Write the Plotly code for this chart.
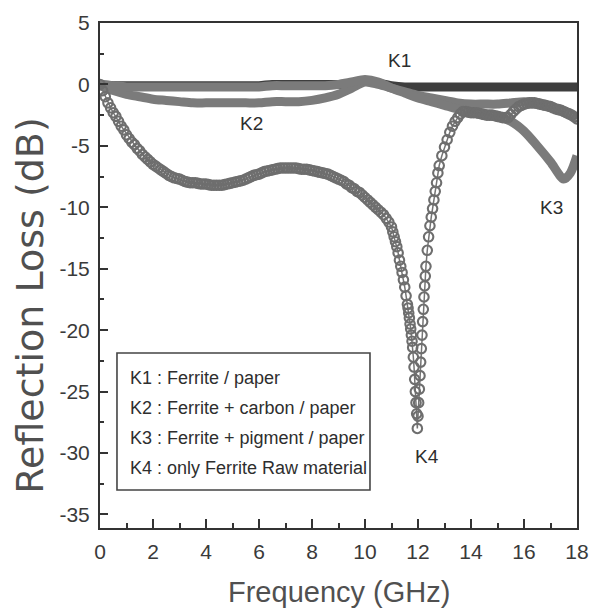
import plotly.graph_objects as go

# ---------------- data ----------------
freq_a = [0.0, 0.5, 1.0, 1.5, 2.0, 2.5, 3.0, 3.5, 4.0, 4.5, 5.0, 5.5, 6.0, 6.5, 7.0, 7.5, 8.0, 8.5,
          9.0, 9.5, 10.0, 10.5, 11.0, 11.5, 12.0, 12.5, 13.0, 13.5, 14.0, 14.5, 15.0, 15.5, 16.0,
          16.5, 17.0, 17.5, 18.0]

k1_rl = [0.0, -0.1, -0.1, -0.1, -0.1, -0.1, -0.1, -0.1, -0.1, -0.1, -0.1, -0.1, -0.1, 0.0, 0.0,
         0.0, 0.0, 0.0, 0.0, 0.1, 0.3, 0.1, -0.1, -0.2, -0.2, -0.2, -0.2, -0.2, -0.2, -0.2, -0.2,
         -0.2, -0.2, -0.2, -0.2, -0.2, -0.2]

k2_rl = [-0.1, -0.5, -0.8, -1.0, -1.2, -1.3, -1.4, -1.5, -1.5, -1.5, -1.5, -1.5, -1.5, -1.4,
         -1.4, -1.4, -1.3, -1.1, -0.8, -0.3, 0.2, 0.0, -0.3, -0.6, -0.9, -1.1, -1.3, -1.5, -1.6,
         -1.6, -1.6, -1.5, -1.4, -1.5, -1.8, -2.2, -2.8]

freq_k3 = [0.0, 0.5, 1.0, 1.5, 2.0, 2.5, 3.0, 3.5, 4.0, 4.5, 5.0, 5.5, 6.0, 6.5, 7.0, 7.5, 8.0, 8.5,
           9.0, 9.5, 10.0, 10.5, 11.0, 11.5, 12.0, 12.5, 13.0, 13.5, 14.0, 14.5, 15.0, 15.5, 16.0,
           16.5, 17.0, 17.5, 17.75, 18.0]
k3_rl = [0.0, -0.1, -0.2, -0.2, -0.2, -0.2, -0.2, -0.2, -0.2, -0.2, -0.2, -0.2, -0.2, -0.1, -0.1,
         -0.1, -0.1, -0.1, 0.0, 0.2, 0.4, 0.2, -0.3, -0.7, -1.1, -1.4, -1.7, -2.0, -2.2, -2.4,
         -2.6, -3.0, -3.8, -5.0, -6.3, -7.7, -7.2, -5.8]

# K4 (open circles): (frequency GHz, reflection loss dB)
k4_points = [
    (0.0, 0.0), (0.1, -0.5), (0.2, -1.0), (0.3, -1.5), (0.4, -1.9), (0.5, -2.3), (0.6, -2.6),
    (0.7, -3.0), (0.8, -3.4), (0.9, -3.7), (1.0, -4.1), (1.1, -4.4), (1.2, -4.7), (1.3, -4.9),
    (1.4, -5.2), (1.5, -5.4), (1.6, -5.7), (1.7, -5.9), (1.8, -6.1), (1.9, -6.3), (2.0, -6.5),
    (2.1, -6.65), (2.2, -6.8), (2.3, -6.95), (2.4, -7.1), (2.5, -7.25), (2.6, -7.4), (2.7, -7.5),
    (2.8, -7.6), (2.9, -7.65), (3.0, -7.7), (3.1, -7.8), (3.2, -7.9), (3.3, -7.95), (3.4, -8.0),
    (3.5, -8.0), (3.6, -8.0), (3.7, -8.05), (3.8, -8.1), (3.9, -8.1), (4.0, -8.1), (4.1, -8.15),
    (4.2, -8.2), (4.3, -8.2), (4.4, -8.2), (4.5, -8.2), (4.6, -8.2), (4.7, -8.15), (4.8, -8.1),
    (4.9, -8.05), (5.0, -8.0), (5.1, -7.95), (5.2, -7.9), (5.3, -7.85), (5.4, -7.8), (5.5, -7.7),
    (5.6, -7.6), (5.7, -7.5), (5.8, -7.4), (5.9, -7.35), (6.0, -7.3), (6.1, -7.2), (6.2, -7.1),
    (6.3, -7.05), (6.4, -7.0), (6.5, -6.95), (6.6, -6.9), (6.7, -6.85), (6.8, -6.8), (6.9, -6.8),
    (7.0, -6.8), (7.1, -6.8), (7.2, -6.8), (7.3, -6.8), (7.4, -6.8), (7.5, -6.85), (7.6, -6.9),
    (7.7, -6.9), (7.8, -6.9), (7.9, -6.95), (8.0, -7.0), (8.1, -7.05), (8.2, -7.1), (8.3, -7.15),
    (8.4, -7.2), (8.5, -7.25), (8.6, -7.3), (8.7, -7.4), (8.8, -7.5), (8.9, -7.6), (9.0, -7.7),
    (9.1, -7.8), (9.2, -7.9), (9.3, -8.1), (9.4, -8.2), (9.5, -8.4), (9.6, -8.5), (9.7, -8.7),
    (9.8, -8.8), (9.9, -9.0), (10.0, -9.2), (10.1, -9.4), (10.2, -9.6), (10.3, -9.8),
    (10.4, -10.0), (10.5, -10.2), (10.6, -10.4), (10.7, -10.6), (10.8, -10.9), (10.9, -11.2),
    (11.0, -11.6), (11.05, -12.0), (11.1, -12.4), (11.15, -12.8), (11.2, -13.2), (11.25, -13.7),
    (11.3, -14.3), (11.35, -14.8), (11.4, -15.3), (11.45, -15.9), (11.5, -16.5), (11.55, -17.2),
    (11.6, -17.9), (11.625, -18.2), (11.65, -18.6), (11.675, -19.0), (11.7, -19.5),
    (11.725, -19.9), (11.75, -20.4), (11.775, -20.9), (11.8, -21.4), (11.825, -22.2),
    (11.85, -23.0), (11.875, -24.0), (11.9, -25.0), (11.925, -25.9), (11.95, -26.8),
    (11.975, -28.0), (12.0, -27.0), (12.025, -25.9), (12.05, -24.8), (12.075, -23.7),
    (12.1, -22.6), (12.125, -21.5), (12.15, -20.4), (12.175, -19.3), (12.2, -18.3),
    (12.225, -17.3), (12.25, -16.4), (12.275, -15.6), (12.3, -14.8), (12.35, -13.5),
    (12.4, -12.4), (12.45, -11.5), (12.5, -10.8), (12.55, -10.1), (12.6, -9.4), (12.65, -8.7),
    (12.7, -8.0), (12.75, -7.2), (12.8, -6.6), (12.9, -5.8), (13.0, -5.1), (13.1, -4.5),
    (13.2, -3.9), (13.3, -3.4), (13.4, -3.0), (13.5, -2.7), (13.6, -2.4), (13.7, -2.2),
    (13.8, -2.2), (13.9, -2.25), (14.0, -2.3), (14.1, -2.3), (14.2, -2.3), (14.3, -2.35),
    (14.4, -2.4), (14.5, -2.45), (14.6, -2.5), (14.7, -2.5), (14.8, -2.5), (14.9, -2.55),
    (15.0, -2.6), (15.1, -2.65), (15.2, -2.7), (15.3, -2.7), (15.4, -2.7), (15.5, -2.45),
    (15.6, -2.2), (15.7, -2.0), (15.8, -1.8), (15.9, -1.7), (16.0, -1.6), (16.1, -1.55),
    (16.2, -1.5), (16.3, -1.5), (16.4, -1.5), (16.5, -1.55), (16.6, -1.6), (16.7, -1.65),
    (16.8, -1.7), (16.9, -1.75), (17.0, -1.8), (17.1, -1.9), (17.2, -2.0), (17.3, -2.05),
    (17.4, -2.1), (17.5, -2.2), (17.6, -2.3), (17.7, -2.4), (17.8, -2.5), (17.9, -2.65),
    (18.0, -2.8),
]
freq_k4 = [p[0] for p in k4_points]
k4_rl = [p[1] for p in k4_points]

y_ticks = [-35, -30, -25, -20, -15, -10, -5, 0, 5]
x_ticks = [0, 2, 4, 6, 8, 10, 12, 14, 16, 18]

legend_lines = ["K1 : Ferrite / paper",
                "K2 : Ferrite + carbon / paper",
                "K3 : Ferrite + pigment / paper",
                "K4 : only Ferrite Raw material"]
curve_labels = ["K1", "K2", "K3", "K4"]
curve_label_x = [11.3, 5.7, 17.05, 12.35]
curve_label_y = [1.95, -3.2, -10.0, -30.3]

# ---------------- styles ----------------
GRAY = "#7b7b7b"
DARK = "#3e3e3e"
SANS = "Liberation Sans, Arial, sans-serif"
TXT = "#3a3a3a"

fig = go.Figure()
fig.add_trace(go.Scatter(x=freq_a, y=k1_rl, mode="lines", name="K1",
                         line=dict(color=DARK, width=9, shape="spline", smoothing=0.8)))
fig.add_trace(go.Scatter(x=freq_a, y=k2_rl, mode="lines", name="K2",
                         line=dict(color=GRAY, width=9, shape="spline", smoothing=0.8)))
fig.add_trace(go.Scatter(x=freq_k3, y=k3_rl, mode="lines", name="K3",
                         line=dict(color=GRAY, width=9, shape="spline", smoothing=0.8)))
fig.add_trace(go.Scatter(x=freq_k4, y=k4_rl, mode="lines+markers", name="K4",
                         line=dict(color="#747474", width=1.5),
                         marker=dict(symbol="circle-open", size=9.5, color="#6e6e6e",
                                     line=dict(width=2.1, color="#6e6e6e"))))

fig.update_layout(
    width=595, height=606,
    margin=dict(l=92, r=26, t=15, b=86, autoexpand=False),
    paper_bgcolor="white", plot_bgcolor="white",
    showlegend=False,
    font=dict(family=SANS, color=TXT),
)
fig.update_xaxes(
    range=[0, 18], tickvals=x_ticks, ticktext=[str(v) for v in x_ticks],
    ticks="inside", ticklen=9, tickwidth=1.8, tickcolor="#333",
    minor=dict(dtick=1, ticks="inside", ticklen=5, tickwidth=1.5, tickcolor="#333"),
    showline=True, linecolor="#333", linewidth=2, mirror=True,
    showgrid=False, zeroline=False, automargin=False,
    tickfont=dict(size=21, family=SANS, color=TXT),
    ticklabelstandoff=4,
)
fig.update_yaxes(
    range=[-36.1, 5], tickvals=y_ticks, ticktext=[str(v) for v in y_ticks],
    ticks="inside", ticklen=8, tickwidth=1.8, tickcolor="#333",
    minor=dict(dtick=2.5, ticks="inside", ticklen=4, tickwidth=1.5, tickcolor="#333"),
    showline=True, linecolor="#333", linewidth=2, mirror=True,
    showgrid=False, zeroline=False, automargin=False,
    tickfont=dict(size=21, family=SANS, color=TXT),
    ticklabelstandoff=4,
)

# axis titles as annotations (precise placement)
fig.add_annotation(text="Reflection Loss (dB)", xref="paper", yref="paper",
                   x=-0.147, y=0.44, xanchor="center", yanchor="middle",
                   showarrow=False, textangle=-90,
                   font=dict(size=38, family="DejaVu Sans", color="#505050"))
fig.add_annotation(text="Frequency (GHz)", xref="paper", yref="paper",
                   x=0.5, y=-0.127, xanchor="center", yanchor="middle",
                   showarrow=False,
                   font=dict(size=29, family=SANS, color="#505050"))

# legend box
fig.add_shape(type="rect", xref="paper", yref="paper", x0=0.0356, x1=0.566, y0=0.0752, y1=0.3465,
              line=dict(color="#444", width=1.6), fillcolor="rgba(0,0,0,0)")
for i, t in enumerate(legend_lines):
    fig.add_annotation(text=t, xref="paper", yref="paper", x=0.0587, y=0.297 - i * 0.0594,
                       xanchor="left", yanchor="middle", showarrow=False,
                       font=dict(size=18, family=SANS, color="#2e2e2e"))

for t, lx, ly in zip(curve_labels, curve_label_x, curve_label_y):
    fig.add_annotation(text=t, x=lx, y=ly, showarrow=False,
                       font=dict(size=19, family=SANS, color="#2e2e2e"))

fig.write_html("out.html")
